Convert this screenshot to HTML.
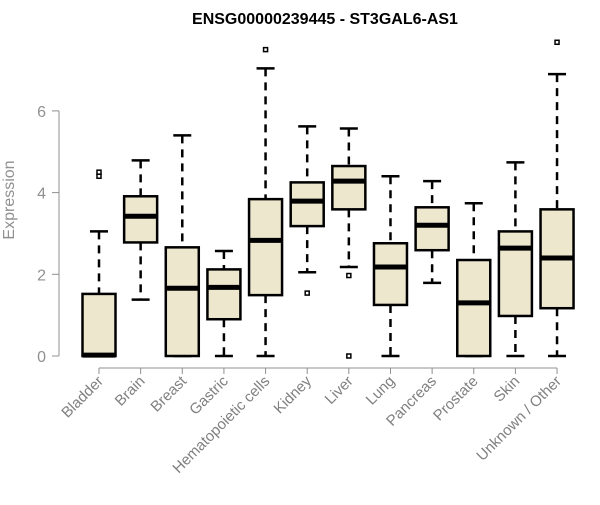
<!DOCTYPE html>
<html><head><meta charset="utf-8"><style>
body{margin:0;background:#fff;}
svg{font-family:"Liberation Sans",sans-serif;}
</style></head><body>
<svg id="chart" width="600" height="500">
<text x="325" y="24" text-anchor="middle" font-weight="bold" font-size="16">ENSG00000239445 - ST3GAL6-AS1</text>
<text transform="translate(14,200) rotate(-90)" text-anchor="middle" font-size="16" fill="#909090">Expression</text>
<g id="yaxis"></g>
<g id="xaxis"></g>
<g id="boxes"></g>
</svg>
<script>
const categories=["Bladder","Brain","Breast","Gastric","Hematopoietic cells","Kidney","Liver","Lung","Pancreas","Prostate","Skin","Unknown / Other"];
const lowWhisker=[0,1.38,0,0,0,2.05,2.18,0,1.79,0,0,0];
const q1=[0,2.78,0,0.9,1.49,3.18,3.59,1.25,2.59,0,0.98,1.17];
const median=[0.02,3.42,1.66,1.68,2.83,3.79,4.28,2.18,3.2,1.3,2.64,2.4];
const q3=[1.52,3.91,2.66,2.12,3.84,4.25,4.65,2.76,3.64,2.35,3.05,3.59];
const highWhisker=[3.05,4.79,5.4,2.57,7.04,5.62,5.57,4.4,4.28,3.74,4.74,6.9];
const outliers=[[4.4,4.5],[],[],[],[7.5],[1.54],[1.97,0],[],[],[],[],[7.68]];
const yTicks=[0,2,4,6];
const NS="http://www.w3.org/2000/svg";
const y=v=>356-v*40.85;
const x=i=>99+i*41.64;
function mk(tag,attrs,parent){const e=document.createElementNS(NS,tag);for(const k in attrs)e.setAttribute(k,attrs[k]);parent.appendChild(e);return e;}
const ya=document.getElementById('yaxis');
mk('line',{x1:59,x2:59,y1:y(0),y2:y(6),stroke:'#909090'},ya);
yTicks.forEach(t=>{
  const l=mk('line',{x1:52,x2:59,y1:y(t),y2:y(t),stroke:'#909090'},ya);
  
  
  const tx=mk('text',{x:46,y:y(t)+6,'text-anchor':'end','font-size':16,fill:'#909090'},ya);
  tx.textContent=t;
  
  
});
const xa=document.getElementById('xaxis');
mk('line',{x1:x(0),x2:x(categories.length-1),y1:368,y2:368,stroke:'#909090'},xa);
const bx=document.getElementById('boxes');
categories.forEach((c,i)=>{
  const cx=x(i);
  mk('line',{x1:cx,x2:cx,y1:368,y2:374,stroke:'#909090'},xa);
  const tx=mk('text',{x:0,y:0,'text-anchor':'end','font-size':15,fill:'#808080',transform:`translate(${cx+5},${382}) rotate(-45)`},xa);
  tx.textContent=c;
  
  
  const g=mk('g',{},bx);
  
  
  mk('line',{x1:cx,x2:cx,y1:y(highWhisker[i]),y2:y(q3[i]),stroke:'#000','stroke-width':2.5,'stroke-dasharray':'8,6'},g);
  mk('line',{x1:cx,x2:cx,y1:y(q1[i]),y2:y(lowWhisker[i]),stroke:'#000','stroke-width':2.5,'stroke-dasharray':'8,6'},g);
  mk('line',{x1:cx-9,x2:cx+9,y1:y(highWhisker[i]),y2:y(highWhisker[i]),stroke:'#000','stroke-width':2.5},g);
  mk('line',{x1:cx-9,x2:cx+9,y1:y(lowWhisker[i]),y2:y(lowWhisker[i]),stroke:'#000','stroke-width':2.5},g);
  mk('rect',{x:cx-16.5,y:y(q3[i]),width:33,height:Math.max(y(q1[i])-y(q3[i]),0.5),fill:'#ede7cd',stroke:'#000','stroke-width':2.5},g);
  mk('line',{x1:cx-16.5,x2:cx+16.5,y1:y(median[i]),y2:y(median[i]),stroke:'#000','stroke-width':5},g);
  outliers[i].forEach(o=>{
    const r=mk('rect',{x:cx-2,y:y(o)-2,width:4,height:4,fill:'none',stroke:'#000','stroke-width':1.5},g);
    
    
  });
});
</script>
</body></html>
